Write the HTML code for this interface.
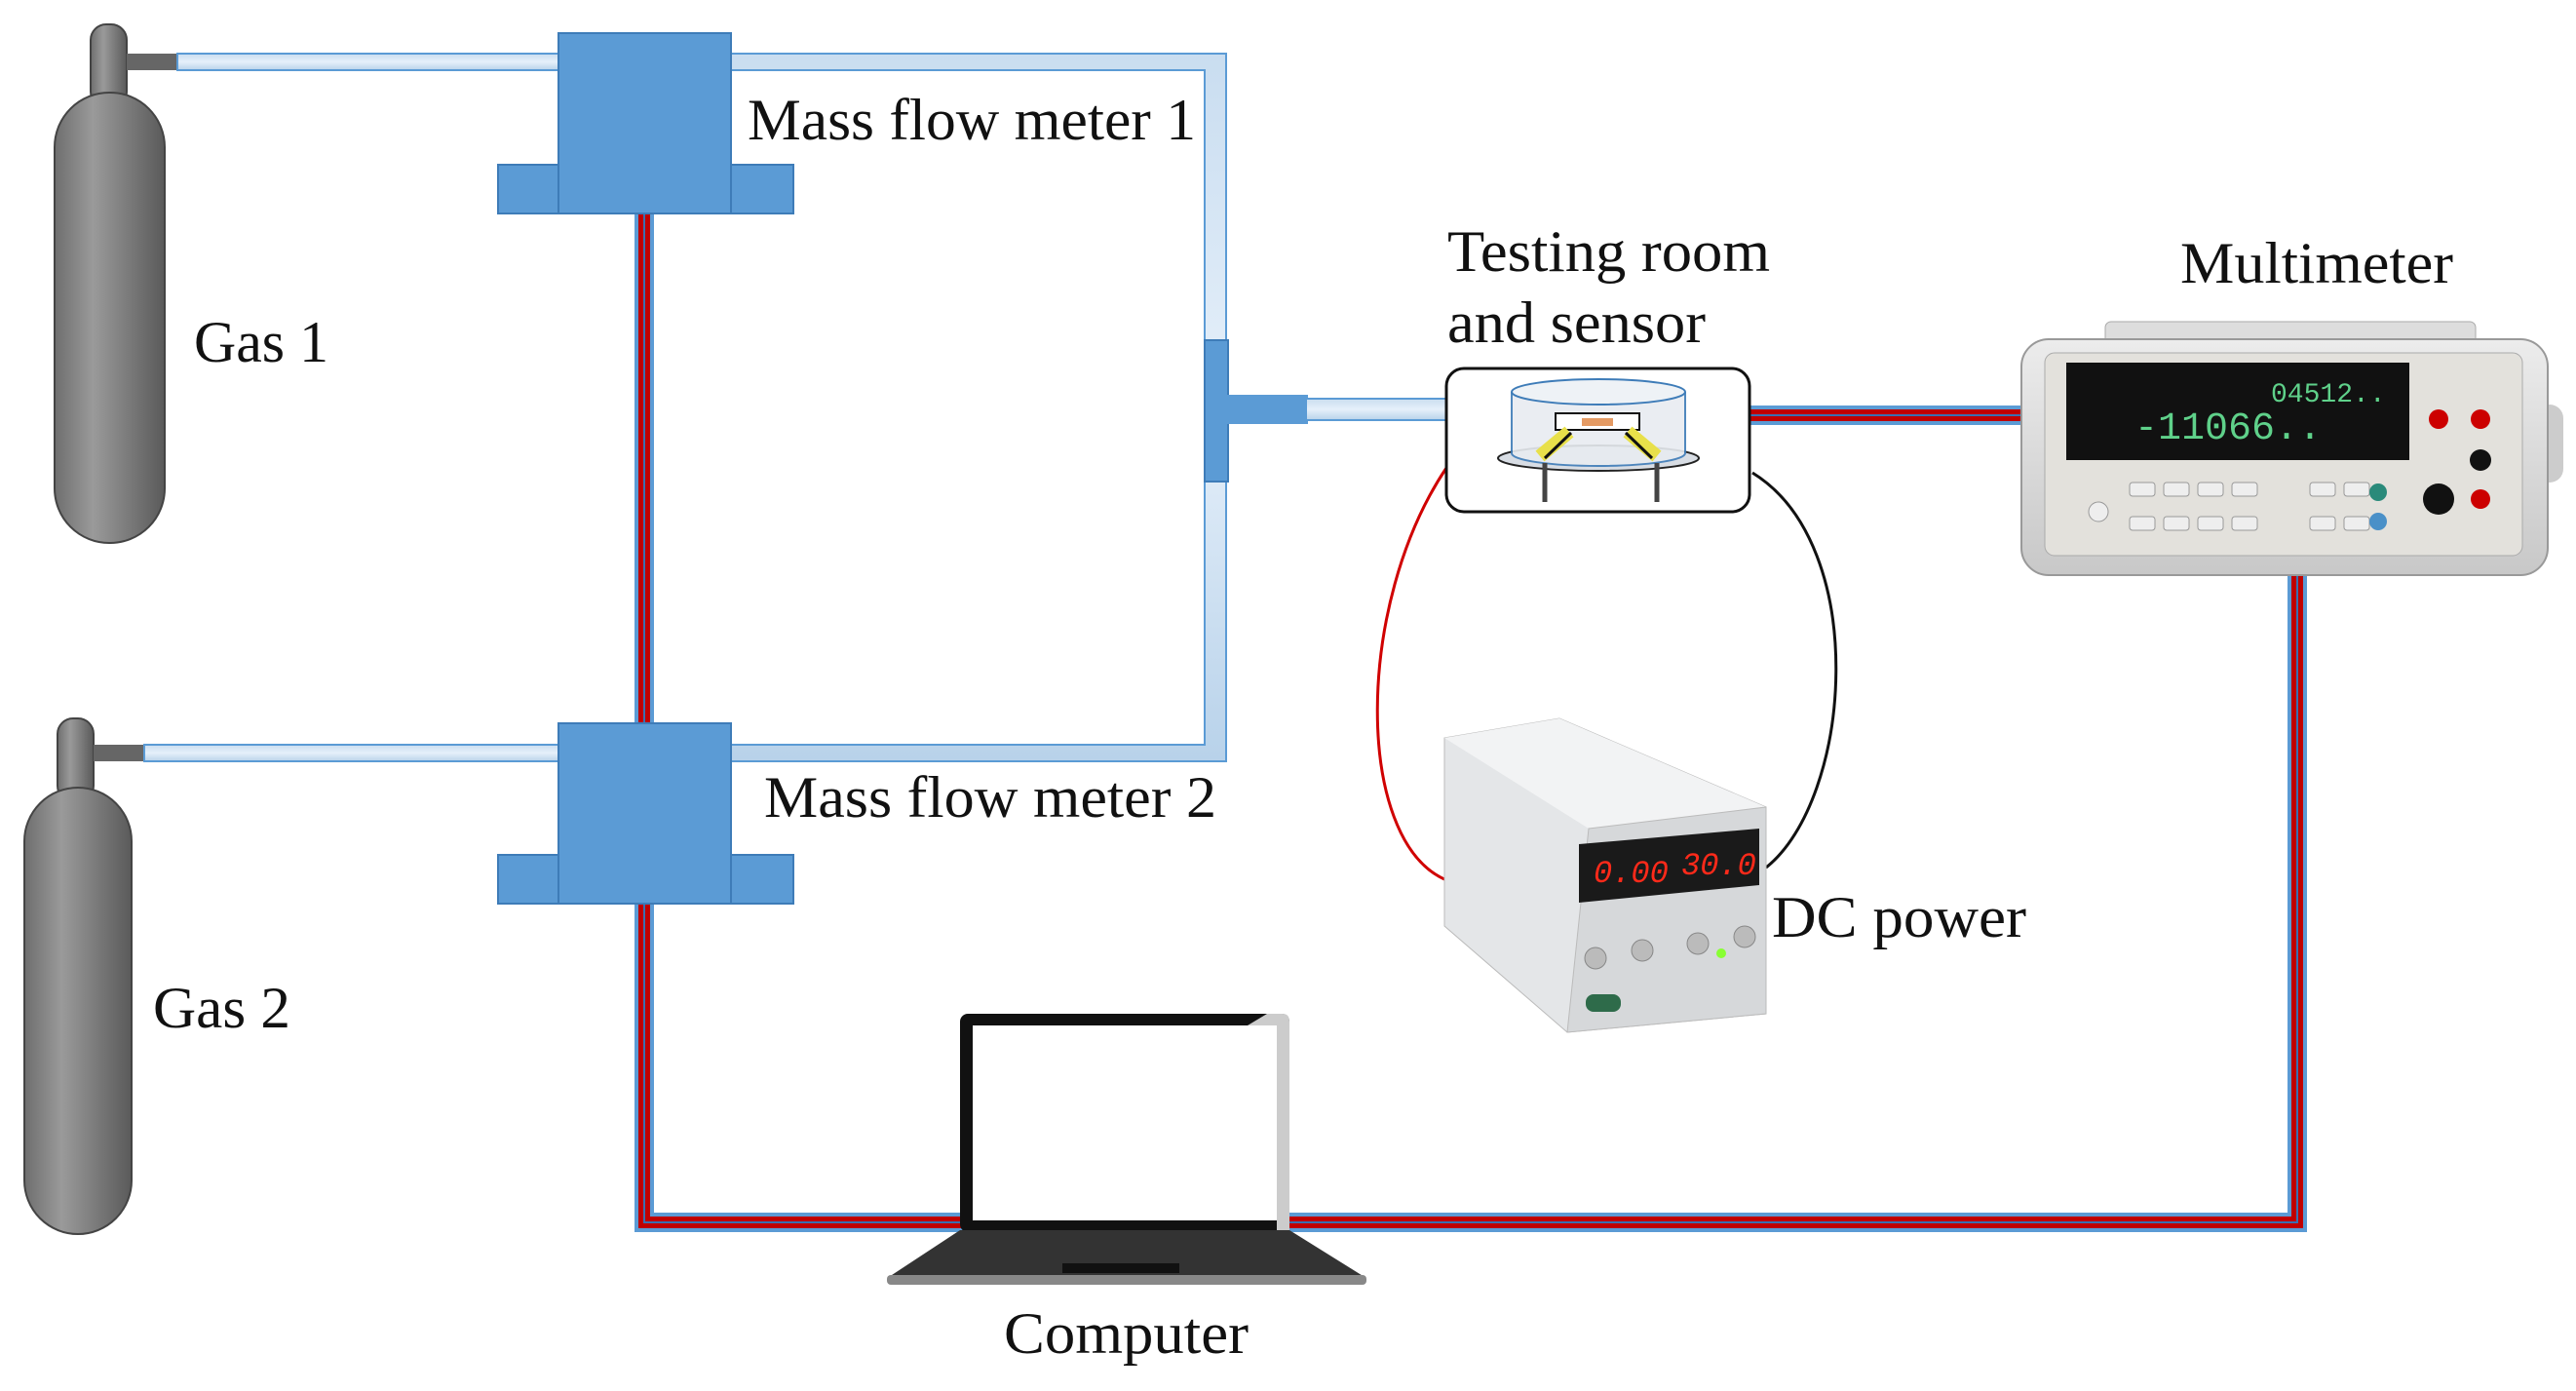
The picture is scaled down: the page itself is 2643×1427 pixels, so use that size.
<!DOCTYPE html>
<html><head><meta charset="utf-8"><style>
html,body{margin:0;padding:0;background:#fff;}
svg{display:block;}
text{font-family:"Liberation Serif",serif;fill:#111;}
</style></head><body>
<svg width="2643" height="1427" viewBox="0 0 2643 1427" xmlns="http://www.w3.org/2000/svg">
<defs>
<linearGradient id="cyl" x1="0" x2="1" y1="0" y2="0">
<stop offset="0" stop-color="#6e6e6e"/><stop offset="0.35" stop-color="#9a9a9a"/><stop offset="1" stop-color="#5a5a5a"/>
</linearGradient>
<linearGradient id="tube" x1="0" x2="0" y1="0" y2="1">
<stop offset="0" stop-color="#c9ddf0"/><stop offset="0.5" stop-color="#e6f0fa"/><stop offset="1" stop-color="#b8d2ea"/>
</linearGradient>
<linearGradient id="dev" x1="0" x2="0" y1="0" y2="1">
<stop offset="0" stop-color="#ececec"/><stop offset="1" stop-color="#c8c8c8"/>
</linearGradient>
</defs>

<!-- Gas cylinders -->
<rect x="93" y="25" width="37" height="85" rx="16" fill="url(#cyl)" stroke="#444" stroke-width="2"/>
<rect x="130" y="55" width="52" height="17" fill="#666"/>
<rect x="56" y="95" width="113" height="462" rx="56" fill="url(#cyl)" stroke="#444" stroke-width="2"/>
<rect x="59" y="737" width="37" height="85" rx="16" fill="url(#cyl)" stroke="#444" stroke-width="2"/>
<rect x="96" y="764" width="52" height="17" fill="#666"/>
<rect x="25" y="808" width="110" height="458" rx="55" fill="url(#cyl)" stroke="#444" stroke-width="2"/>

<!-- gas tubes -->
<rect x="182" y="55" width="395" height="17" fill="url(#tube)" stroke="#5b9bd5" stroke-width="2"/>
<rect x="148" y="764" width="429" height="17" fill="url(#tube)" stroke="#5b9bd5" stroke-width="2"/>
<path d="M750 55 H1258 V781 H750 V764 H1236 V72 H750 Z" fill="url(#tube)" stroke="#5b9bd5" stroke-width="2"/>
<rect x="1236" y="349" width="24" height="145" fill="#5b9bd5" stroke="#3e7cb8" stroke-width="2"/>
<rect x="1258" y="405" width="84" height="30" fill="#5b9bd5"/>
<rect x="1340" y="409" width="145" height="22" fill="url(#tube)" stroke="#5b9bd5" stroke-width="2"/>

<!-- cables -->
<g fill="none" stroke-linejoin="miter">
<path d="M661 219 V1254 H990 M1323 1254 H2357 V585 M1796 426 H2100" stroke="#5b9bd5" stroke-width="20"/>
<path d="M661 219 V1254 H990 M1323 1254 H2357 V585 M1796 426 H2100" stroke="#c00000" stroke-width="12"/>
<path d="M661 219 V1254 H990 M1323 1254 H2357 V585 M1796 426 H2100" stroke="#3a6fb0" stroke-width="2"/>
</g>

<!-- MFMs -->
<g fill="#5b9bd5" stroke="#3e7cb8" stroke-width="2">
<rect x="511" y="169" width="303" height="50"/>
<rect x="573" y="34" width="177" height="185"/>
<rect x="511" y="877" width="303" height="50"/>
<rect x="573" y="742" width="177" height="185"/>
</g>

<!-- wires -->
<path d="M1484 480 C1390 620 1390 860 1482 902" fill="none" stroke="#d00000" stroke-width="3"/>
<path d="M1798 485 C1920 560 1900 820 1812 890" fill="none" stroke="#111" stroke-width="3"/>

<!-- testing room -->
<rect x="1484" y="378" width="311" height="147" rx="18" fill="#fff" stroke="#111" stroke-width="3"/>
<ellipse cx="1640" cy="470" rx="103" ry="13" fill="#d8dde4" stroke="#222" stroke-width="2"/>
<path d="M1551 402 V465 A89 13 0 0 0 1729 465 V402" fill="#e8ecf1" stroke="#3e7cb8" stroke-width="2" opacity="0.9"/>
<ellipse cx="1640" cy="402" rx="89" ry="13" fill="#eef2f6" stroke="#3e7cb8" stroke-width="2"/>
<rect x="1596" y="424" width="86" height="17" fill="#fff" stroke="#111" stroke-width="2"/>
<rect x="1623" y="429" width="32" height="8" fill="#e49a63"/>
<path d="M1610 443 L1580 468 M1670 443 L1700 468" stroke="#e8e04a" stroke-width="14"/>
<path d="M1612 444 L1585 470 M1668 444 L1695 470" stroke="#111" stroke-width="3"/>
<path d="M1585 475 V515 M1700 475 V515" stroke="#444" stroke-width="5"/>

<!-- multimeter -->
<rect x="2160" y="330" width="380" height="30" rx="6" fill="#ddd" stroke="#aaa"/>
<rect x="2600" y="415" width="30" height="80" rx="14" fill="#ccc"/>
<rect x="2074" y="348" width="540" height="242" rx="28" fill="url(#dev)" stroke="#999" stroke-width="2"/>
<rect x="2098" y="362" width="490" height="208" rx="10" fill="#e3e1dc" stroke="#aaa"/>
<rect x="2120" y="372" width="352" height="100" fill="#111"/>
<text x="2190" y="450" font-size="40" style="fill:#5fd18a;font-family:'Liberation Mono',monospace">-11066..</text>
<text x="2330" y="412" font-size="28" style="fill:#5fd18a;font-family:'Liberation Mono',monospace">04512..</text>
<g fill="#eee" stroke="#999">
<rect x="2185" y="495" width="26" height="14" rx="3"/><rect x="2220" y="495" width="26" height="14" rx="3"/><rect x="2255" y="495" width="26" height="14" rx="3"/><rect x="2290" y="495" width="26" height="14" rx="3"/><rect x="2370" y="495" width="26" height="14" rx="3"/><rect x="2405" y="495" width="26" height="14" rx="3"/>
<rect x="2185" y="530" width="26" height="14" rx="3"/><rect x="2220" y="530" width="26" height="14" rx="3"/><rect x="2255" y="530" width="26" height="14" rx="3"/><rect x="2290" y="530" width="26" height="14" rx="3"/><rect x="2370" y="530" width="26" height="14" rx="3"/><rect x="2405" y="530" width="26" height="14" rx="3"/>
<circle cx="2153" cy="525" r="10"/>
</g>
<circle cx="2440" cy="505" r="9" fill="#2a8a7a"/><circle cx="2440" cy="535" r="9" fill="#4a90c8"/>
<circle cx="2502" cy="430" r="10" fill="#c00"/><circle cx="2545" cy="430" r="10" fill="#c00"/><circle cx="2545" cy="472" r="11" fill="#111"/><circle cx="2502" cy="512" r="16" fill="#111"/><circle cx="2545" cy="512" r="10" fill="#c00"/>

<!-- DC power -->
<path d="M1482 757 L1600 737 L1812 828 L1812 1040 L1608 1059 L1482 950 Z" fill="#e4e6e8" stroke="#bbb"/>
<path d="M1600 737 L1812 828 L1630 850 L1482 757 Z" fill="#f2f3f4"/>
<path d="M1630 850 L1812 828 L1812 1040 L1608 1059 Z" fill="#d6d8da" stroke="#bbb"/>
<path d="M1620 866 L1805 850 L1805 908 L1620 926 Z" fill="#1a1a1a"/>
<text x="1635" y="905" font-size="32" style="fill:#ff2a1a;font-family:'Liberation Mono',monospace;font-style:italic">0.00</text>
<text x="1725" y="897" font-size="32" style="fill:#ff2a1a;font-family:'Liberation Mono',monospace;font-style:italic">30.0</text>
<g fill="#bbb" stroke="#888"><circle cx="1637" cy="983" r="11"/><circle cx="1685" cy="975" r="11"/><circle cx="1742" cy="968" r="11"/><circle cx="1790" cy="961" r="11"/></g>
<circle cx="1766" cy="978" r="5" fill="#8f3"/>
<rect x="1627" y="1020" width="36" height="18" rx="8" fill="#2e6b4a"/>

<!-- laptop -->
<rect x="985" y="1040" width="338" height="224" rx="8" fill="#111"/>
<rect x="998" y="1052" width="312" height="200" fill="#fff"/>
<path d="M1300 1040 H1316 Q1323 1040 1323 1048 V1264 H1310 V1052 H1280 Z" fill="#ccc"/>
<path d="M985 1262 H1323 L1400 1310 H912 Z" fill="#333"/>
<rect x="910" y="1308" width="492" height="10" rx="4" fill="#888"/>
<rect x="1090" y="1296" width="120" height="10" fill="#111"/>

<!-- labels -->
<g font-size="60" lengthAdjust="spacingAndGlyphs">
<text x="767" y="143" textLength="460" lengthAdjust="spacingAndGlyphs">Mass flow meter 1</text>
<text x="784" y="838" textLength="464" lengthAdjust="spacingAndGlyphs">Mass flow meter 2</text>
<text x="199" y="371" textLength="138" lengthAdjust="spacingAndGlyphs">Gas 1</text>
<text x="157" y="1054" textLength="141" lengthAdjust="spacingAndGlyphs">Gas 2</text>
<text x="1485" y="278" textLength="331" lengthAdjust="spacingAndGlyphs">Testing room</text>
<text x="1485" y="351" textLength="265" lengthAdjust="spacingAndGlyphs">and sensor</text>
<text x="2237" y="290" textLength="280" lengthAdjust="spacingAndGlyphs">Multimeter</text>
<text x="1818" y="961" textLength="261" lengthAdjust="spacingAndGlyphs">DC power</text>
<text x="1030" y="1388" textLength="251" lengthAdjust="spacingAndGlyphs">Computer</text>
</g>
</svg>
</body></html>
